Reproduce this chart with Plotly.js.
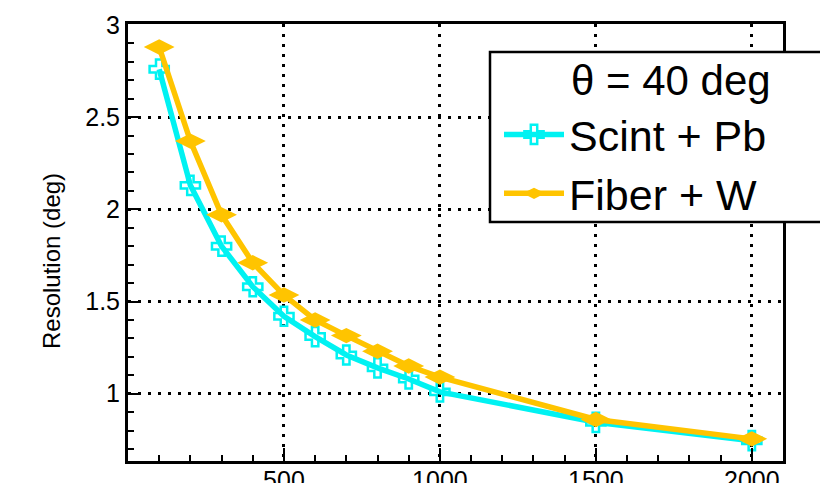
<!DOCTYPE html>
<html>
<head>
<meta charset="utf-8">
<script src="https://cdn.plot.ly/plotly-3.0.1.min.js"></script>
<style>html,body{margin:0;padding:0;background:#fff;}#chart{width:820px;height:483px;}</style>
</head>
<body>
<div id="chart"></div>
<script>
const energies = [100, 200, 300, 400, 500, 600, 700, 800, 900, 1000, 1500, 2000];
const scintPb = [2.76, 2.13, 1.80, 1.58, 1.42, 1.31, 1.21, 1.14, 1.08, 1.01, 0.845, 0.745];
const fiberW  = [2.88, 2.37, 1.97, 1.71, 1.535, 1.40, 1.315, 1.23, 1.15, 1.09, 0.86, 0.755];
const xTickVals = [500, 1000, 1500, 2000];
const xTickText = ['500', '1000', '1500', '2000'];
const yTickVals = [1, 1.5, 2, 2.5, 3];
const yTickText = ['1', '1.5', '2', '2.5', '3'];
const seriesNames = ['Scint + Pb', 'Fiber + W'];
const legendHeader = 'θ = 40 deg';
const yTitle = 'Resolution (deg)';

const W = 820, H = 483;
const M = {l: 128, r: 37, t: 24, b: 22};
const pw = W - M.l - M.r, ph = H - M.t - M.b;
const px = v => (v - M.l) / pw;
const py = v => 1 - (v - M.t) / ph;

const FONT = 'Liberation Sans, Arial, Helvetica, sans-serif';
const CYAN = '#00F2F2', ORANGE = '#FFC400';

const traces = [
  {
    x: energies, y: scintPb, name: seriesNames[0], type: 'scatter', mode: 'lines+markers',
    line: {color: CYAN, width: 5.5},
    marker: {symbol: 'cross-open', size: 16, color: CYAN, line: {color: CYAN, width: 2.5}}
  },
  {
    x: energies, y: fiberW, name: seriesNames[1], type: 'scatter', mode: 'lines+markers',
    line: {color: ORANGE, width: 5.5},
    marker: {symbol: 'diamond-wide', size: 22, color: ORANGE, line: {width: 0}}
  }
];

const gridStyle = {showgrid: true, gridcolor: '#000', gridwidth: 3, griddash: '3px,7px'};

const layout = {
  width: W, height: H,
  margin: M,
  paper_bgcolor: '#fff', plot_bgcolor: '#fff',
  font: {family: FONT, color: '#000', size: 25},
  showlegend: true,
  xaxis: Object.assign({
    range: [0, 2100], tickvals: xTickVals, ticktext: xTickText,
    ticks: 'inside', ticklen: 13, tickwidth: 2, tickcolor: '#000',
    showline: true, linecolor: '#000', linewidth: 3, mirror: true,
    zeroline: false, tickfont: {size: 25, family: FONT}, ticklabelstandoff: -5,
    minor: {dtick: 100, tick0: 0, ticks: 'inside', ticklen: 6, tickwidth: 2, tickcolor: '#000', showgrid: false}
  }, gridStyle),
  yaxis: Object.assign({
    range: [0.635, 3.005], tickvals: yTickVals, ticktext: yTickText,
    ticks: 'inside', ticklen: 13, tickwidth: 2, tickcolor: '#000',
    showline: true, linecolor: '#000', linewidth: 3, mirror: true,
    zeroline: false, tickfont: {size: 25, family: FONT},
    minor: {dtick: 0.1, tick0: 0, ticks: 'inside', ticklen: 6, tickwidth: 2, tickcolor: '#000', showgrid: false}
  }, gridStyle),
  legend: {
    x: px(499), y: py(100), xanchor: 'left', yanchor: 'top',
    bgcolor: 'rgba(0,0,0,0)', borderwidth: 0,
    font: {family: FONT, size: 43, color: '#000'},
    itemwidth: 60, tracegroupgap: 0
  },
  shapes: [
    {type: 'rect', xref: 'paper', yref: 'paper', x0: px(490), x1: px(840), y0: py(52), y1: py(222),
     fillcolor: '#fff', line: {color: '#000', width: 2.5}, layer: 'above'}
  ],
  annotations: [
    {xref: 'paper', yref: 'paper', x: px(569), y: py(80), xanchor: 'left', yanchor: 'middle',
     text: legendHeader, showarrow: false, font: {family: FONT, size: 42, color: '#000'}},
    {xref: 'paper', yref: 'paper', x: px(51), y: py(261), xanchor: 'center', yanchor: 'middle',
     text: yTitle, textangle: -90, showarrow: false, font: {family: FONT, size: 24, color: '#000'}}
  ]
};

Plotly.newPlot('chart', traces, layout, {displayModeBar: false, staticPlot: true});
</script>
</body>
</html>
